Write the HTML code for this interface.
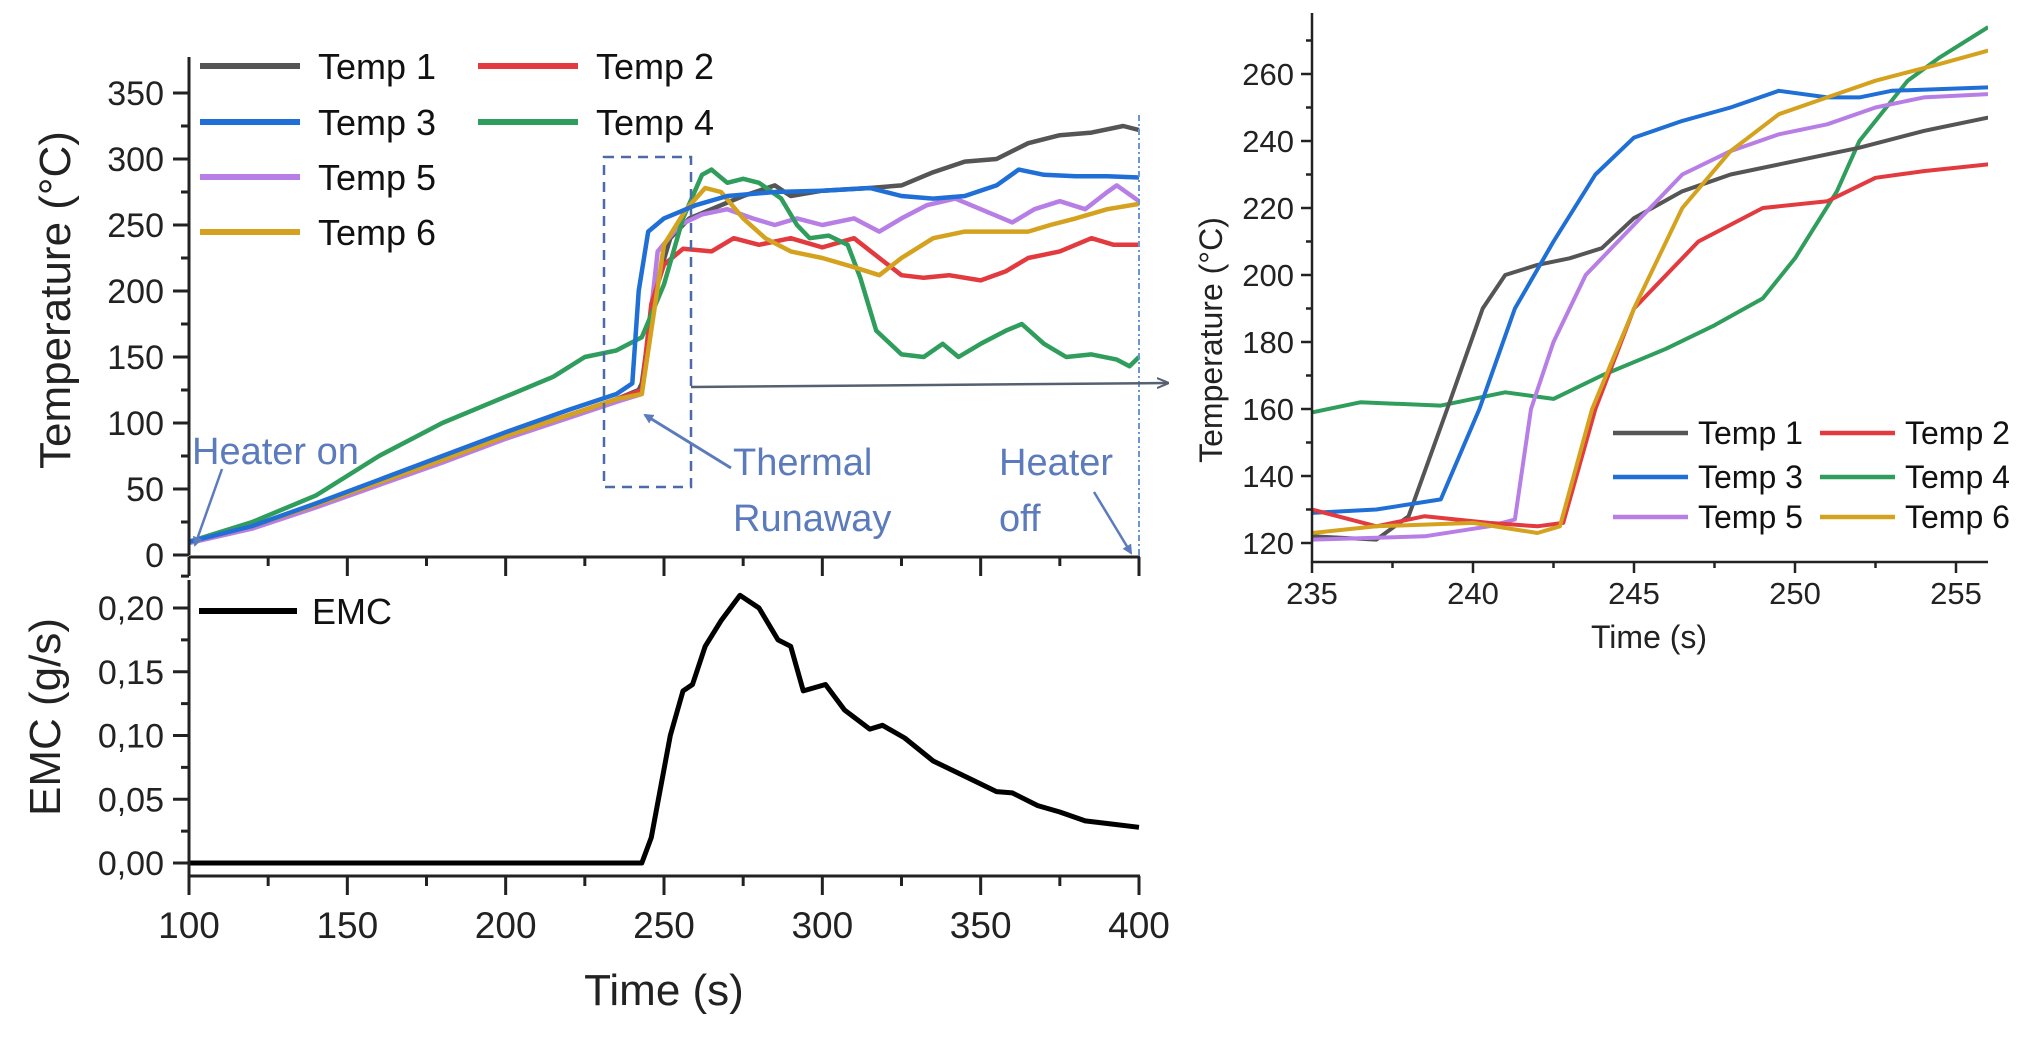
<!DOCTYPE html>
<html><head><meta charset="utf-8"><style>
html,body{margin:0;padding:0;background:#fff;}
svg{display:block;font-family:"Liberation Sans",Arial,sans-serif;}
</style></head><body>
<svg id="chart" width="2026" height="1039" viewBox="0 0 2026 1039" xmlns="http://www.w3.org/2000/svg">
<rect width="2026" height="1039" fill="#fff"/>
<g id="main"></g>
<g id="emc"></g>
<g id="inset"></g>
<g id="annot"></g>
</svg>
<script>
// ---- main temperature panel data ----
const mainT1 = [100,120,140,160,180,200,220,235,242,243,247,252,258,265,275,285,290,300,315,325,335,345,355,365,375,385,395,400];
const mainV1 = [10,22,38,55,72,90,106,118,125,130,200,240,255,262,272,280,272,276,278,280,290,298,300,312,318,320,325,322];
const mainT2 = [100,120,140,160,180,200,220,235,243,246,250,256,265,272,280,290,300,310,318,325,332,340,350,358,365,375,385,392,400];
const mainV2 = [10,22,38,55,72,90,106,118,125,190,220,232,230,240,235,240,233,240,225,212,210,212,208,215,225,230,240,235,235];
const mainT3 = [100,120,140,160,180,200,220,235,240,242,245,250,260,270,285,300,315,325,335,345,355,362,370,380,390,400];
const mainV3 = [10,22,39,57,75,93,110,122,130,200,245,255,265,272,275,276,278,272,270,272,280,292,288,287,287,286];
const mainT4 = [100,120,140,160,180,200,215,225,235,243,250,256,262,265,270,275,280,287,292,296,302,308,312,317,325,332,338,343,350,358,363,370,377,385,393,397,400];
const mainV4 = [10,25,45,75,100,120,135,150,155,165,205,255,288,292,282,285,282,270,250,240,242,235,210,170,152,150,160,150,160,170,175,160,150,152,148,143,150];
const mainT5 = [100,120,140,160,180,200,220,235,243,248,255,262,270,278,285,292,300,310,318,325,333,342,350,360,367,375,383,390,393,400];
const mainV5 = [9,20,36,53,70,88,104,116,122,230,250,258,262,255,250,255,250,255,245,255,265,270,262,252,262,268,262,275,280,268];
const mainT6 = [100,120,140,160,180,200,220,235,243,250,257,263,268,275,282,290,300,310,318,325,335,345,355,365,372,380,390,400];
const mainV6 = [10,22,38,55,72,90,106,118,122,235,262,278,275,255,240,230,225,218,212,225,240,245,245,245,250,255,262,266];
const mainXTicks = [100,150,200,250,300,350,400];
const mainYTicks = [0,50,100,150,200,250,300,350];
// ---- EMC data ----
const emcT = [100,243,246,252,256,259,263,268,274,280,286,290,294,301,307,315,319,326,335,345,355,360,368,375,383,390,400];
const emcV = [0,0,0.02,0.10,0.135,0.14,0.17,0.19,0.21,0.20,0.175,0.17,0.135,0.14,0.12,0.105,0.108,0.098,0.08,0.068,0.056,0.055,0.045,0.04,0.033,0.031,0.028];
const emcYTicks = ["0,00","0,05","0,10","0,15","0,20"];
// ---- inset data ----
const insT1 = [235,237,238,239.2,240.3,241,242,243,244,245,246.5,248,250,252,254,256];
const insV1 = [122,121,128,160,190,200,203,205,208,217,225,230,234,238,243,247];
const insT2 = [235,237,238.5,240.5,242,242.8,243.8,245,247,249,251,252.5,254,256];
const insV2 = [130,125,128,126,125,126,160,190,210,220,222,229,231,233];
const insT3 = [235,237,239,240.2,241.3,242.5,243.8,245,246.5,248,249.5,251,252,253,256];
const insV3 = [129,130,133,160,190,210,230,241,246,250,255,253,253,255,256];
const insT4 = [235,236.5,239,241,242.5,244,246,247.5,249,250,251.3,252,253.5,254.5,256];
const insV4 = [159,162,161,165,163,170,178,185,193,205,225,240,258,265,274];
const insT5 = [235,238.5,240.5,241.3,241.8,242.5,243.5,245,246.5,248,249.5,251,252.5,254,256];
const insV5 = [121,122,125,127,160,180,200,215,230,237,242,245,250,253,254];
const insT6 = [235,237,240,242,242.7,243.7,245,246.5,248,249.5,251,252.5,254.5,256];
const insV6 = [123,125,126,123,125,160,190,220,237,248,253,258,263,267];
const insXTicks = [235,240,245,250,255];
const insYTicks = [120,140,160,180,200,220,240,260];

const NS = "http://www.w3.org/2000/svg";
function mk(parent, tag, attrs, text){
  const e = document.createElementNS(NS, tag);
  for (const k in attrs) e.setAttribute(k, attrs[k]);
  if (text !== undefined) e.textContent = text;
  parent.appendChild(e);
  return e;
}
const colors = ["#555555","#e23a3e","#1f6fd6","#2f9d5c","#b77fe6","#d4a21e"];

const xM = t => 189 + (t - 100) * (1139 - 189) / 300;
const yM = v => 555 - v * 1.32;
const yE = v => 863 - v * 1275;
const xI = t => 1312 + (t - 235) * 32.2;
const yI = v => 543 - (v - 120) * 3.35;

function pathD(ts, vs, fx, fy){
  return ts.map((t,i)=>(i?"L":"M")+fx(t).toFixed(1)+","+fy(vs[i]).toFixed(1)).join(" ");
}

// ===== main panel =====
const gM = document.getElementById("main");
const mainSeries = [[mainT1,mainV1],[mainT2,mainV2],[mainT3,mainV3],[mainT4,mainV4],[mainT5,mainV5],[mainT6,mainV6]];
const drawOrder = [0,4,1,3,5,2];
drawOrder.forEach(i=>{
  const p = mk(gM,"path",{d:pathD(mainSeries[i][0],mainSeries[i][1],xM,yM),fill:"none",stroke:colors[i],"stroke-width":4.5,"stroke-linejoin":"round"});
  
  
});
let a = mk(gM,"line",{x1:189,y1:57,x2:189,y2:555,stroke:"#222","stroke-width":3});


a = mk(gM,"line",{x1:189,y1:557,x2:1140,y2:557,stroke:"#222","stroke-width":3});


mainYTicks.forEach(v=>{
  mk(gM,"line",{x1:173,y1:yM(v),x2:189,y2:yM(v),stroke:"#222","stroke-width":3});
  if (v<350) mk(gM,"line",{x1:181,y1:yM(v+25),x2:189,y2:yM(v+25),stroke:"#222","stroke-width":3});
  const t = mk(gM,"text",{x:164,y:yM(v)+12,"text-anchor":"end","font-size":34,fill:"#222"},String(v));
  
  
});
mainXTicks.forEach((v,i)=>{
  mk(gM,"line",{x1:xM(v),y1:557,x2:xM(v),y2:576,stroke:"#222","stroke-width":3});
  if (i<mainXTicks.length-1) mk(gM,"line",{x1:xM(v+25),y1:557,x2:xM(v+25),y2:566,stroke:"#222","stroke-width":3});
});
let tt = mk(gM,"text",{x:0,y:0,"text-anchor":"middle","font-size":44,fill:"#222",transform:"translate(70,300) rotate(-90)"},"Temperature (°C)");


const legPos = [[200,66],[478,66],[200,122],[478,122],[200,177],[200,232]];
legPos.forEach((p,i)=>{
  const g = mk(gM,"g",{});
  
  
  mk(g,"line",{x1:p[0],y1:p[1],x2:p[0]+100,y2:p[1],stroke:colors[i],"stroke-width":6});
  mk(g,"text",{x:p[0]+118,y:p[1]+13,"font-size":36,fill:"#111"},"Temp "+(i+1));
});

// ===== EMC panel =====
const gE = document.getElementById("emc");
let e = mk(gE,"path",{d:pathD(emcT,emcV,xM,yE),fill:"none",stroke:"#000","stroke-width":5,"stroke-linejoin":"round"});


a = mk(gE,"line",{x1:189,y1:580,x2:189,y2:876,stroke:"#222","stroke-width":3});


a = mk(gE,"line",{x1:189,y1:876,x2:1140,y2:876,stroke:"#222","stroke-width":3});


emcYTicks.forEach((lab,i)=>{
  const v = i*0.05;
  mk(gE,"line",{x1:173,y1:yE(v),x2:189,y2:yE(v),stroke:"#222","stroke-width":3});
  mk(gE,"line",{x1:181,y1:yE(v+0.025),x2:189,y2:yE(v+0.025),stroke:"#222","stroke-width":3});
  const t = mk(gE,"text",{x:164,y:yE(v)+12,"text-anchor":"end","font-size":34,fill:"#222"},lab);
  
  
});
mainXTicks.forEach((v,i)=>{
  mk(gE,"line",{x1:xM(v),y1:876,x2:xM(v),y2:895,stroke:"#222","stroke-width":3});
  if (i<mainXTicks.length-1) mk(gE,"line",{x1:xM(v+25),y1:876,x2:xM(v+25),y2:886,stroke:"#222","stroke-width":3});
  const t = mk(gE,"text",{x:xM(v),y:938,"text-anchor":"middle","font-size":37,fill:"#222"},String(v));
  
  
});
tt = mk(gE,"text",{x:664,y:1005,"text-anchor":"middle","font-size":44,fill:"#222"},"Time (s)");


tt = mk(gE,"text",{x:0,y:0,"text-anchor":"middle","font-size":44,fill:"#222",transform:"translate(60,717) rotate(-90)"},"EMC (g/s)");


let lg = mk(gE,"g",{});


mk(lg,"line",{x1:199,y1:611,x2:297,y2:611,stroke:"#000","stroke-width":6});
mk(lg,"text",{x:312,y:624,"font-size":36,fill:"#111"},"EMC");

// ===== inset =====
const gI = document.getElementById("inset");
mk(gI,"clipPath",{id:"insClip"}).appendChild(document.createElementNS(NS,"rect"));
const cr = gI.querySelector("#insClip rect");
cr.setAttribute("x",1312); cr.setAttribute("y",10); cr.setAttribute("width",676); cr.setAttribute("height",552);
const insSeries = [[insT1,insV1],[insT2,insV2],[insT3,insV3],[insT4,insV4],[insT5,insV5],[insT6,insV6]];
[3,0,2,4,1,5].forEach(i=>{
  const p = mk(gI,"path",{d:pathD(insSeries[i][0],insSeries[i][1],xI,yI),fill:"none",stroke:colors[i],"stroke-width":4,"stroke-linejoin":"round","clip-path":"url(#insClip)"});
  
  
});
a = mk(gI,"line",{x1:1312,y1:13,x2:1312,y2:563,stroke:"#222","stroke-width":2.5});


a = mk(gI,"line",{x1:1311,y1:562,x2:1988,y2:562,stroke:"#222","stroke-width":2.5});


insYTicks.forEach(v=>{
  mk(gI,"line",{x1:1301,y1:yI(v),x2:1312,y2:yI(v),stroke:"#222","stroke-width":2.5});
  mk(gI,"line",{x1:1306,y1:yI(v+10),x2:1312,y2:yI(v+10),stroke:"#222","stroke-width":2.5});
  const t = mk(gI,"text",{x:1294,y:yI(v)+11,"text-anchor":"end","font-size":31,fill:"#222"},String(v));
  
  
});
insXTicks.forEach(v=>{
  mk(gI,"line",{x1:xI(v),y1:562,x2:xI(v),y2:573,stroke:"#222","stroke-width":2.5});
  mk(gI,"line",{x1:xI(v+2.5),y1:562,x2:xI(v+2.5),y2:568,stroke:"#222","stroke-width":2.5});
  const t = mk(gI,"text",{x:xI(v),y:604,"text-anchor":"middle","font-size":31,fill:"#222"},String(v));
  
  
});
tt = mk(gI,"text",{x:1649,y:648,"text-anchor":"middle","font-size":32,fill:"#222"},"Time (s)");


tt = mk(gI,"text",{x:0,y:0,"text-anchor":"middle","font-size":32,fill:"#222",transform:"translate(1222,340) rotate(-90)"},"Temperature (°C)");


const insLeg = [[1613,433],[1820,433],[1613,477],[1820,477],[1613,517],[1820,517]];
insLeg.forEach((p,i)=>{
  const g = mk(gI,"g",{});
  
  
  mk(g,"line",{x1:p[0],y1:p[1],x2:p[0]+75,y2:p[1],stroke:colors[i],"stroke-width":4.5});
  mk(g,"text",{x:p[0]+85,y:p[1]+11,"font-size":32,fill:"#111"},"Temp "+(i+1));
});

// ===== annotations =====
const gA = document.getElementById("annot");
const blue = "#5b7bbd";
let an = mk(gA,"rect",{x:604,y:157,width:87,height:330,fill:"none",stroke:"#4a6aa8","stroke-width":2.5,"stroke-dasharray":"10,7"});


an = mk(gA,"line",{x1:1139,y1:115,x2:1139,y2:555,stroke:"#6a95d8","stroke-width":2,"stroke-dasharray":"6,3,2,3"});


mk(gA,"defs",{}).innerHTML = '<marker id="ah" markerWidth="10" markerHeight="10" refX="8" refY="5" orient="auto" markerUnits="userSpaceOnUse"><path d="M0,0 L10,5 L0,10 z" fill="'+blue+'"/></marker><marker id="ahg" markerWidth="12" markerHeight="12" refX="10" refY="6" orient="auto" markerUnits="userSpaceOnUse"><path d="M0,1 L12,6 L0,11" fill="none" stroke="#556070" stroke-width="2"/></marker>';
an = mk(gA,"line",{x1:691,y1:387,x2:1167,y2:383,stroke:"#556070","stroke-width":2.5,"marker-end":"url(#ahg)"});


an = mk(gA,"line",{x1:222,y1:469,x2:195,y2:545,stroke:blue,"stroke-width":2.5,"marker-end":"url(#ah)"});


an = mk(gA,"line",{x1:731,y1:468,x2:645,y2:415,stroke:blue,"stroke-width":3,"marker-end":"url(#ah)"});


an = mk(gA,"line",{x1:1094,y1:492,x2:1131,y2:553,stroke:blue,"stroke-width":2.5,"marker-end":"url(#ah)"});


[["Heater on",192,464,"heater-on-label"],["Thermal",733,475,"thermal-label"],["Runaway",733,531,"runaway-label"],["Heater",999,475,"heater-off-label"],["off",999,531,"off-label"]].forEach(d=>{
  const t = mk(gA,"text",{x:d[1],y:d[2],"font-size":38,fill:blue},d[0]);
  
  
});
</script>
</body></html>
